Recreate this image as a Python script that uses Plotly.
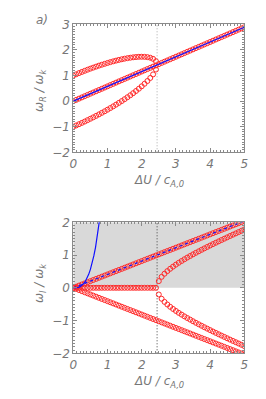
import plotly.graph_objects as go
from plotly.subplots import make_subplots

# ---------------- data ----------------
du = [0.000, 0.083, 0.167, 0.250, 0.333, 0.417, 0.500, 0.583, 0.667, 0.750,
      0.833, 0.917, 1.000, 1.083, 1.167, 1.250, 1.333, 1.417, 1.500, 1.583,
      1.667, 1.750, 1.833, 1.917, 2.000, 2.083, 2.167, 2.250, 2.333, 2.417,
      2.500, 2.583, 2.667, 2.750, 2.833, 2.917, 3.000, 3.083, 3.167, 3.250,
      3.333, 3.417, 3.500, 3.583, 3.667, 3.750, 3.833, 3.917, 4.000, 4.083,
      4.167, 4.250, 4.333, 4.417, 4.500, 4.583, 4.667, 4.750, 4.833, 4.917,
      5.000]

# real part: mode following the straight line (all 61 points)
wr_mid = [0.000, 0.048, 0.096, 0.144, 0.192, 0.241, 0.289, 0.337, 0.385, 0.433,
          0.481, 0.529, 0.577, 0.625, 0.674, 0.722, 0.770, 0.818, 0.866, 0.914,
          0.962, 1.010, 1.058, 1.107, 1.155, 1.203, 1.251, 1.299, 1.347, 1.395,
          1.443, 1.492, 1.540, 1.588, 1.636, 1.684, 1.732, 1.780, 1.828, 1.876,
          1.925, 1.973, 2.021, 2.069, 2.117, 2.165, 2.213, 2.261, 2.309, 2.358,
          2.406, 2.454, 2.502, 2.550, 2.598, 2.646, 2.694, 2.742, 2.791, 2.839,
          2.887]
# real part: upper and lower branches before the critical shear (first 30 points)
wr_up = [1.000, 1.047, 1.094, 1.139, 1.183, 1.226, 1.268, 1.308, 1.347, 1.385,
         1.421, 1.456, 1.490, 1.522, 1.553, 1.582, 1.609, 1.634, 1.657, 1.677,
         1.695, 1.710, 1.721, 1.730, 1.732, 1.729, 1.717, 1.694, 1.651, 1.558]
wr_low = [-1.000, -0.951, -0.902, -0.851, -0.799, -0.744, -0.690, -0.634, -0.577, -0.519,
          -0.459, -0.398, -0.336, -0.272, -0.205, -0.138, -0.069, 0.002, 0.075, 0.151,
          0.229, 0.310, 0.395, 0.484, 0.578, 0.677, 0.785, 0.904, 1.043, 1.232]

# imaginary part: growing / damped straight-line modes (61 points)
wi_grow = [0.000, 0.034, 0.068, 0.102, 0.136, 0.170, 0.204, 0.238, 0.272, 0.306,
           0.340, 0.374, 0.408, 0.442, 0.476, 0.510, 0.544, 0.578, 0.612, 0.646,
           0.680, 0.714, 0.748, 0.782, 0.816, 0.851, 0.885, 0.919, 0.953, 0.987,
           1.021, 1.055, 1.089, 1.123, 1.157, 1.191, 1.225, 1.259, 1.293, 1.327,
           1.361, 1.395, 1.429, 1.463, 1.497, 1.531, 1.565, 1.599, 1.633, 1.667,
           1.701, 1.735, 1.769, 1.803, 1.837, 1.871, 1.905, 1.939, 1.973, 2.007,
           2.041]
wi_damp = [-0.000, -0.034, -0.068, -0.102, -0.136, -0.170, -0.204, -0.238, -0.272, -0.306,
           -0.340, -0.374, -0.408, -0.442, -0.476, -0.510, -0.544, -0.578, -0.612, -0.646,
           -0.680, -0.714, -0.748, -0.782, -0.816, -0.851, -0.885, -0.919, -0.953, -0.987,
           -1.021, -1.055, -1.089, -1.123, -1.157, -1.191, -1.225, -1.259, -1.293, -1.327,
           -1.361, -1.395, -1.429, -1.463, -1.497, -1.531, -1.565, -1.599, -1.633, -1.667,
           -1.701, -1.735, -1.769, -1.803, -1.837, -1.871, -1.905, -1.939, -1.973, -2.007,
           -2.041]
# imaginary part: neutral modes before the critical shear (first 30 points)
wi_zero = [0.0] * 30
# imaginary part: split branches after the critical shear (last 31 points)
wi_split_up = [0.204, 0.335, 0.430, 0.510, 0.581, 0.646, 0.707, 0.765, 0.819, 0.872,
               0.923, 0.972, 1.021, 1.068, 1.114, 1.159, 1.204, 1.248, 1.291, 1.334,
               1.376, 1.418, 1.459, 1.500, 1.541, 1.582, 1.622, 1.661, 1.701, 1.740,
               1.780]
wi_split_dn = [-0.204, -0.335, -0.430, -0.510, -0.581, -0.646, -0.707, -0.765, -0.819, -0.872,
               -0.923, -0.972, -1.021, -1.068, -1.114, -1.159, -1.204, -1.248, -1.291, -1.334,
               -1.376, -1.418, -1.459, -1.500, -1.541, -1.582, -1.622, -1.661, -1.701, -1.740,
               -1.780]

# steep blue curve in the lower panel
du_fast = [0.00, 0.05, 0.10, 0.15, 0.20, 0.25, 0.30, 0.35, 0.40, 0.45,
           0.50, 0.55, 0.60, 0.65, 0.70, 0.75, 0.80]
wi_fast = [0.000, 0.001, 0.005, 0.015, 0.036, 0.070, 0.122, 0.193, 0.288, 0.410,
           0.563, 0.749, 0.972, 1.236, 1.544, 1.898, 2.304]

du_crit = 2.45
x_ticks = [0, 1, 2, 3, 4, 5]
y_ticks_top = [-2, -1, 0, 1, 2, 3]
y_ticks_bot = [-2, -1, 0, 1, 2]

# ---------------- styling ----------------
# the page body adds an 8 px margin, so the figure is drawn 8 px smaller
OFF = 8
W, H = 266 - OFF, 399 - OFF
RED = "#ff2a2a"
BLUE = "#1010ff"
GRAY = "#8a8a8a"
FONT = dict(family="DejaVu Sans", size=12, color="#777777", style="italic")

def px_x(p):
    return (p - OFF) / W

def px_y(p):
    return 1 - (p - OFF) / H

fig = make_subplots(rows=2, cols=1)

marker = dict(symbol="circle-open", size=5, color=RED, line=dict(width=1, color=RED))

# top panel
fig.add_trace(go.Scatter(x=du, y=wr_mid, mode="markers", marker=marker), row=1, col=1)
fig.add_trace(go.Scatter(x=du[:30], y=wr_up, mode="markers", marker=marker), row=1, col=1)
fig.add_trace(go.Scatter(x=du[:30], y=wr_low, mode="markers", marker=marker), row=1, col=1)
fig.add_trace(go.Scatter(x=du, y=wr_mid, mode="lines", line=dict(color=BLUE, width=1.2)), row=1, col=1)

# bottom panel
fig.add_trace(go.Scatter(x=du, y=wi_grow, mode="markers", marker=marker), row=2, col=1)
fig.add_trace(go.Scatter(x=du, y=wi_damp, mode="markers", marker=marker), row=2, col=1)
fig.add_trace(go.Scatter(x=du[:30], y=wi_zero, mode="markers", marker=marker), row=2, col=1)
fig.add_trace(go.Scatter(x=du[30:], y=wi_split_up, mode="markers", marker=marker), row=2, col=1)
fig.add_trace(go.Scatter(x=du[30:], y=wi_split_dn, mode="markers", marker=marker), row=2, col=1)
fig.add_trace(go.Scatter(x=du, y=wi_grow, mode="lines",
                         line=dict(color=BLUE, width=1.2, dash="3px,3px")), row=2, col=1)
fig.add_trace(go.Scatter(x=du_fast, y=wi_fast, mode="lines",
                         line=dict(color=BLUE, width=1.2)), row=2, col=1)

# shaded unstable half-plane
fig.add_shape(type="rect", xref="x2", yref="y2", x0=0, x1=5, y0=0, y1=2,
              fillcolor="#d9d9d9", line=dict(width=0), layer="below")
# critical shear lines
fig.add_shape(type="line", xref="x", yref="y", x0=du_crit, x1=du_crit, y0=-2, y1=3,
              line=dict(color="#aaaaaa", width=1, dash="1px,2px"), layer="below")
fig.add_shape(type="line", xref="x2", yref="y2", x0=du_crit, x1=du_crit, y0=-2, y1=2,
              line=dict(color="#444444", width=1, dash="1px,2px"), layer="below")

xdom = [px_x(73.3), px_x(244.3)]
axis_common = dict(showline=True, linecolor=GRAY, linewidth=1, mirror="ticks",
                   ticks="inside", ticklen=4, tickcolor=GRAY, showgrid=False,
                   zeroline=False, tickfont=FONT, automargin=False,
                   minor=dict(ticks="inside", ticklen=2, tickcolor=GRAY, dtick=0.1, showgrid=False))

fig.update_xaxes(range=[0, 5], tickvals=x_ticks, domain=xdom, **axis_common)
fig.update_yaxes(**axis_common)
fig.update_yaxes(range=[-2, 3], tickvals=y_ticks_top, domain=[px_y(152.3), px_y(24.3)], row=1, col=1)
fig.update_yaxes(range=[-2, 2], tickvals=y_ticks_bot, domain=[px_y(353.3), px_y(222.3)], row=2, col=1)

annots = [
    dict(text="a)", x=px_x(42), y=px_y(20)),
    dict(text="ΔU / c<sub>A,0</sub>", x=px_x(159), y=px_y(181)),
    dict(text="ΔU / c<sub>A,0</sub>", x=px_x(159), y=px_y(382)),
    dict(text="ω<sub>R</sub> / ω<sub>k</sub>", x=px_x(40), y=px_y(90), textangle=-90),
    dict(text="ω<sub>I</sub> / ω<sub>k</sub>", x=px_x(40), y=px_y(283), textangle=-90),
]
for a in annots:
    fig.add_annotation(xref="paper", yref="paper", showarrow=False,
                       xanchor="center", yanchor="middle", font=FONT, **a)

fig.update_layout(width=W, height=H, margin=dict(l=0, r=0, t=0, b=0),
                  showlegend=False, plot_bgcolor="white", paper_bgcolor="white",
                  hovermode=False)

fig.write_html("out.html")
